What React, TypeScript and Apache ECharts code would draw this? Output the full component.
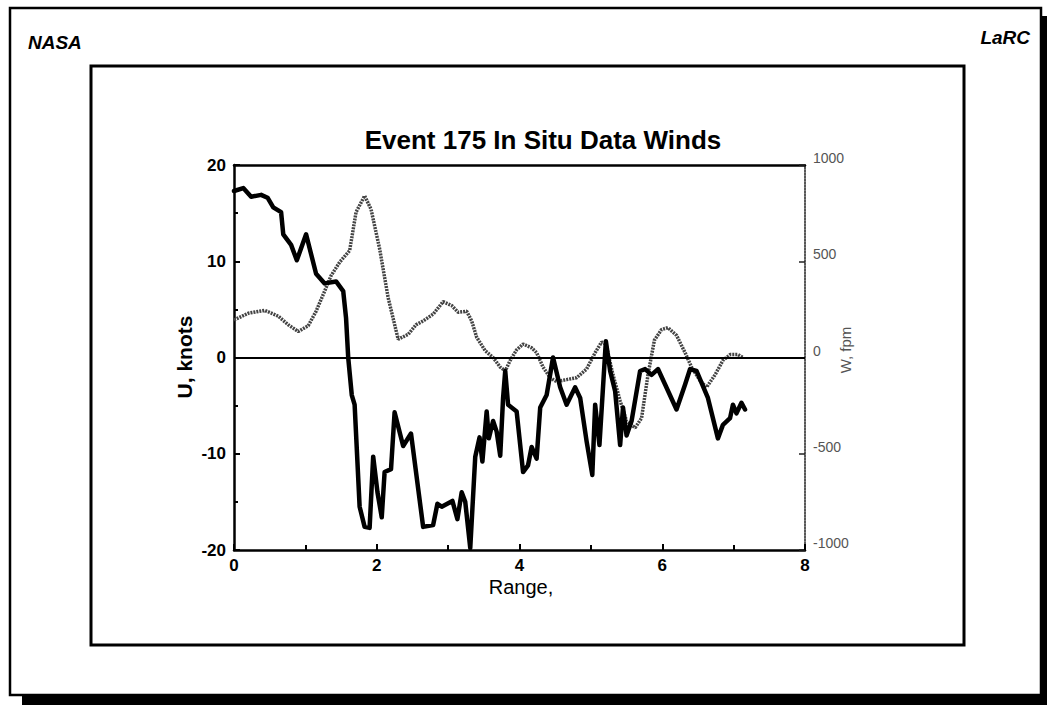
import React, { useEffect, useRef } from "react";
import * as echarts from "echarts";

// U, knots (thick black line) vs range
const rangeU = [0.0, 0.13, 0.24, 0.38, 0.47, 0.55, 0.66, 0.69, 0.8, 0.88, 1.01, 1.15, 1.27, 1.43, 1.53, 1.57, 1.6, 1.65, 1.69, 1.76, 1.83, 1.9, 1.95, 2.01, 2.07, 2.11, 2.2, 2.25, 2.37, 2.48, 2.65, 2.79, 2.85, 2.91, 3.06, 3.13, 3.19, 3.24, 3.31, 3.38, 3.44, 3.48, 3.54, 3.57, 3.63, 3.68, 3.73, 3.77, 3.8, 3.84, 3.96, 4.05, 4.12, 4.17, 4.24, 4.29, 4.38, 4.47, 4.57, 4.66, 4.78, 4.85, 4.94, 5.02, 5.06, 5.12, 5.21, 5.27, 5.34, 5.41, 5.45, 5.5, 5.57, 5.69, 5.76, 5.85, 5.94, 6.04, 6.2, 6.32, 6.39, 6.48, 6.64, 6.78, 6.85, 6.95, 6.99, 7.04, 7.11, 7.16];
const uKnots = [17.3, 17.6, 16.7, 16.9, 16.6, 15.6, 15.1, 12.8, 11.7, 10.1, 12.8, 8.7, 7.7, 7.9, 6.9, 4.1, 0, -3.9, -4.9, -15.5, -17.6, -17.7, -10.3, -14.0, -16.6, -11.9, -11.6, -5.7, -9.2, -7.9, -17.6, -17.4, -15.2, -15.5, -14.9, -16.8, -14.0, -15.0, -19.8, -10.3, -8.3, -10.8, -5.6, -8.4, -6.6, -7.7, -10.2, -4.2, -1.4, -4.9, -5.6, -11.9, -11.2, -9.3, -10.5, -5.2, -3.9, 0, -3.1, -4.9, -3.1, -4.2, -8.7, -12.2, -4.9, -9.1, 1.7, -1.4, -3.5, -9.1, -5.2, -8.1, -6.6, -1.4, -1.2, -1.8, -1.2, -2.8, -5.4, -2.8, -1.2, -1.4, -4.2, -8.4, -7.0, -6.3, -4.9, -5.8, -4.7, -5.4];

// W, fpm (grey stippled line) vs range
const rangeW = [0.0, 0.2, 0.43, 0.62, 0.76, 0.9, 1.04, 1.15, 1.27, 1.36, 1.48, 1.62, 1.71, 1.83, 1.92, 2.04, 2.16, 2.3, 2.44, 2.55, 2.65, 2.79, 2.93, 3.05, 3.14, 3.26, 3.33, 3.4, 3.52, 3.63, 3.73, 3.8, 3.87, 3.96, 4.05, 4.17, 4.24, 4.33, 4.43, 4.52, 4.66, 4.8, 4.94, 5.06, 5.15, 5.21, 5.31, 5.41, 5.5, 5.62, 5.71, 5.8, 5.89, 5.99, 6.08, 6.2, 6.32, 6.41, 6.53, 6.62, 6.74, 6.85, 6.95, 7.06, 7.13];
const wFpm = [195, 230, 245, 215, 170, 135, 165, 240, 345, 425, 495, 555, 755, 840, 770, 565, 310, 95, 120, 170, 190, 225, 290, 270, 235, 240, 190, 105, 35, 0, -50, -70, -15, 40, 70, 50, 25, -50, -105, -125, -115, -105, -60, 25, 80, 70, -90, -225, -330, -365, -315, -90, 90, 145, 155, 115, 25, -50, -120, -155, -90, -15, 15, 15, 0];

const xTicks = [0, 2, 4, 6, 8];
const uTicks = [-20, -10, 0, 10, 20];
const wTicks = [-1000, -500, 0, 500, 1000];

const titleText = "Event 175 In Situ Data Winds";
const xName = "Range,";
const uName = "U, knots";
const wName = "W, fpm";

const FONT = "'Liberation Sans', Arial, Helvetica, sans-serif";

export default function App() {
  const ref = useRef<HTMLDivElement>(null);
  useEffect(() => {
    if (!ref.current) return;
    const chart = echarts.init(ref.current, null, { renderer: "svg" });
    const uData = rangeU.map((r, i) => [r, uKnots[i]]);
    const wData = rangeW.map((r, i) => [r, wFpm[i]]);
    chart.setOption({
      animation: false,
      backgroundColor: "#fff",
      textStyle: { fontFamily: FONT },
      grid: { left: 234, right: 242, top: 165, bottom: 155 },
      xAxis: [
        {
          type: "value",
          min: xTicks[0],
          max: xTicks[xTicks.length - 1],
          interval: 2,
          axisLine: { show: true, onZero: false, lineStyle: { color: "#000", width: 2.5 } },
          axisTick: { show: true, inside: true, length: 6, lineStyle: { color: "#000", width: 2 } },
          minorTick: { show: true, splitNumber: 2, length: 5, lineStyle: { color: "#000", width: 2 } },
          splitLine: { show: false },
          axisLabel: { color: "#000", fontSize: 17, fontWeight: "bold", fontFamily: FONT, margin: 7 },
        },
        {
          type: "value",
          position: "top",
          min: 0,
          max: 8,
          interval: 2,
          axisLine: { show: true, onZero: false, lineStyle: { color: "#000", width: 2.5 } },
          axisTick: { show: false },
          axisLabel: { show: false },
          splitLine: { show: false },
        },
      ],
      yAxis: [
        {
          type: "value",
          min: uTicks[0],
          max: uTicks[uTicks.length - 1],
          interval: 10,
          axisLine: { show: true, onZero: false, lineStyle: { color: "#000", width: 2.5 } },
          axisTick: { show: true, inside: true, length: 6, lineStyle: { color: "#000", width: 2 } },
          minorTick: { show: true, splitNumber: 2, length: 4, lineStyle: { color: "#000", width: 2 } },
          splitLine: { show: false },
          axisLabel: { color: "#000", fontSize: 17, fontWeight: "bold", fontFamily: FONT, margin: 8 },
        },
        {
          type: "value",
          position: "right",
          min: wTicks[0],
          max: wTicks[wTicks.length - 1],
          interval: 500,
          axisLine: { show: true, onZero: false, lineStyle: { color: "#222", width: 1.5, type: [2, 1] } },
          axisTick: { show: true, inside: true, length: 6, lineStyle: { color: "#222", width: 1.5 } },
          splitLine: { show: false },
          axisLabel: {
            color: "#555",
            fontSize: 14,
            fontFamily: FONT,
            margin: 8,
            verticalAlign: "bottom",
            formatter: (v: number) => String(v),
          },
        },
      ],
      series: [
        {
          type: "line",
          name: "W",
          xAxisIndex: 0,
          yAxisIndex: 1,
          data: wData,
          showSymbol: false,
          symbol: "none",
          lineStyle: { color: "#444", width: 3.5, type: [2, 1] },
          z: 2,
        },
        {
          type: "line",
          name: "U",
          xAxisIndex: 0,
          yAxisIndex: 0,
          data: uData,
          showSymbol: false,
          symbol: "none",
          lineStyle: { color: "#000", width: 4.5, join: "round", cap: "round" },
          z: 3,
          markLine: {
            silent: true,
            symbol: "none",
            label: { show: false },
            lineStyle: { color: "#000", width: 2, type: "solid" },
            data: [{ yAxis: 0 }],
          },
        },
      ],
      graphic: [
        { type: "rect", shape: { x: 1040, y: 16, width: 7, height: 689 }, style: { fill: "#000" }, silent: true },
        { type: "rect", shape: { x: 22, y: 694, width: 1025, height: 11 }, style: { fill: "#000" }, silent: true },
        { type: "rect", shape: { x: 10, y: 8, width: 1031, height: 687 }, style: { fill: "none", stroke: "#000", lineWidth: 2.5 }, silent: true },
        { type: "rect", shape: { x: 91, y: 66, width: 873, height: 579 }, style: { fill: "none", stroke: "#000", lineWidth: 3 }, silent: true },
        { type: "text", x: 28, y: 42, style: { text: "NASA", font: `italic bold 19px ${FONT}`, fill: "#000", verticalAlign: "middle" } },
        { type: "text", x: 1030, y: 37, style: { text: "LaRC", font: `italic bold 19px ${FONT}`, fill: "#000", align: "right", verticalAlign: "middle" } },
        { type: "text", x: 543, y: 140, style: { text: titleText, font: `bold 26px ${FONT}`, fill: "#000", align: "center", verticalAlign: "middle" } },
        { type: "text", x: 521, y: 587, style: { text: xName, font: `20px ${FONT}`, fill: "#000", align: "center", verticalAlign: "middle" } },
        { type: "text", x: 184, y: 357, rotation: Math.PI / 2, style: { text: uName, font: `bold 21px ${FONT}`, fill: "#000", align: "center", verticalAlign: "middle" } },
        { type: "text", x: 845, y: 350, rotation: Math.PI / 2, style: { text: wName, font: `15px ${FONT}`, fill: "#555", align: "center", verticalAlign: "middle" } },
      ],
    });
    return () => chart.dispose();
  }, []);
  return <div ref={ref} style={{ position: "fixed", left: 0, top: 0, width: 1047, height: 705 }} />;
}
